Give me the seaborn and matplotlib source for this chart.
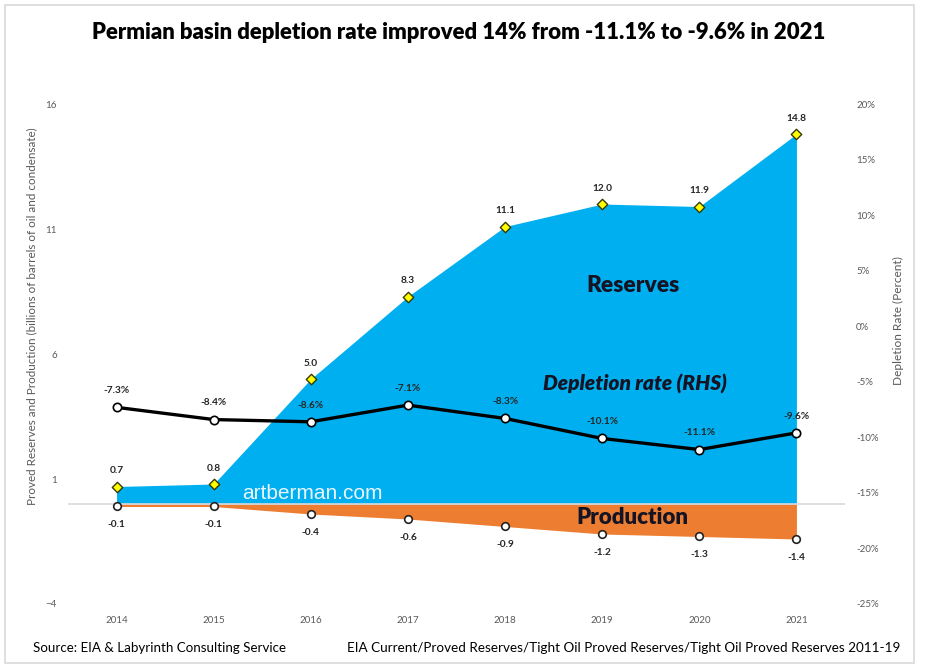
import matplotlib
matplotlib.use("Agg")
import matplotlib.pyplot as plt
from matplotlib.patches import Rectangle
from matplotlib.ticker import FuncFormatter
import pandas as pd
import seaborn as sns

# ---------------------------------------------------------------------------
# Data
# ---------------------------------------------------------------------------
years = [2014, 2015, 2016, 2017, 2018, 2019, 2020, 2021]
reserves = [0.7, 0.8, 5.0, 8.3, 11.1, 12.0, 11.9, 14.8]           # billion bbl
production = [-0.1, -0.1, -0.4, -0.6, -0.9, -1.2, -1.3, -1.4]     # billion bbl
depletion = [-7.3, -8.4, -8.6, -7.1, -8.3, -10.1, -11.1, -9.6]    # percent

left_ticks = [-4, 1, 6, 11, 16]
right_ticks = [-25, -20, -15, -10, -5, 0, 5, 10, 15, 20]

title = "Permian basin depletion rate improved 14% from -11.1% to -9.6% in 2021"
source_left = "Source: EIA & Labyrinth Consulting Service"
source_right = ("EIA Current/Proved Reserves/Tight Oil Proved Reserves/"
                "Tight Oil Proved Reserves 2011-19")

df = pd.DataFrame({"year": years, "reserves": reserves,
                   "production": production, "depletion": depletion})

sns.set_theme(style="white")
plt.rcParams["font.family"] = ["Lato", "DejaVu Sans"]

BLUE = "#00AFEF"
ORANGE = "#ED7D31"
GREY = "#595959"
DARK = "#262626"
NAVY = "#141424"

fig = plt.figure(figsize=(9.3, 6.72), dpi=100)
fig.patches.append(Rectangle((0.005, 0.013), 0.978, 0.98, transform=fig.transFigure,
                             fill=False, edgecolor="#d9d9d9", lw=1.2))

ax = fig.add_axes([0.0731, 0.1012, 0.8355, 0.744])
ax.fill_between(df["year"], 0, df["reserves"], color=BLUE, lw=0, zorder=1)
ax.fill_between(df["year"], 0, df["production"], color=ORANGE, lw=0, zorder=1)
ax.axhline(0, color="#d9d9d9", lw=1.2, zorder=2)

sns.scatterplot(data=df, x="year", y="reserves", marker="D", s=28, color="#FFFF00",
                edgecolor="#3a3a00", linewidth=1, ax=ax, zorder=3)
sns.scatterplot(data=df, x="year", y="production", marker="o", s=30, color="white",
                edgecolor="#222222", linewidth=1.2, ax=ax, zorder=3)

for x, v in zip(years, reserves):
    ax.annotate(f"{v:.1f}", (x, v), xytext=(0, 11.5), textcoords="offset points",
                ha="center", va="center", fontsize=7.3, fontweight="bold", color=DARK)
for x, v in zip(years, production):
    ax.annotate(f"{v:.1f}", (x, v), xytext=(0, -13), textcoords="offset points",
                ha="center", va="center", fontsize=7.3, fontweight="bold", color=DARK)

ax.set_xlim(2013.5, 2021.5)
ax.set_ylim(-4, 16)
ax.set_xticks(years)
ax.set_xticklabels([str(y) for y in years])
ax.set_yticks(left_ticks)
ax.tick_params(axis="both", length=0, labelsize=7, labelcolor=GREY)
ax.tick_params(axis="y", pad=8)
ax.tick_params(axis="x", pad=9)
ax.set_xlabel("")
ax.set_ylabel("Proved Reserves and Production (billions of barrels of oil and condensate)",
              fontsize=8.4, color=GREY)
ax.yaxis.set_label_coords(-0.040, 0.576)

ax.text(0.727, 0.638, "Reserves", transform=ax.transAxes, ha="center", va="center",
        fontsize=16.4, fontweight="heavy", color=NAVY, zorder=4)
ax.text(0.730, 0.44, "Depletion rate (RHS)", transform=ax.transAxes, ha="center",
        va="center", fontsize=15, fontweight="heavy", fontstyle="italic",
        color=NAVY, zorder=4)
ax.text(0.726, 0.172, "Production", transform=ax.transAxes, ha="center", va="center",
        fontsize=16, fontweight="heavy", color=NAVY, zorder=4)
ax.text(0.314, 0.222, "artberman.com", transform=ax.transAxes, ha="center",
        va="center", fontsize=15, color="#eaf6fd", family=["Liberation Sans", "DejaVu Sans"],
        zorder=4)

# depletion rate on the right-hand axis
ax2 = ax.twinx()
sns.lineplot(data=df, x="year", y="depletion", color="black", lw=2.4, marker="o",
             markersize=6, markerfacecolor="white", markeredgecolor="black",
             markeredgewidth=1.2, ax=ax2, zorder=5)
for x, v in zip(years, depletion):
    ax2.annotate(f"{v:.1f}%", (x, v), xytext=(0, 12), textcoords="offset points",
                 ha="center", va="center", fontsize=7.3, fontweight="bold", color=DARK)
ax2.set_ylim(-25, 20)
ax2.set_yticks(right_ticks)
ax2.yaxis.set_major_formatter(FuncFormatter(lambda v, _: f"{v:.0f}%"))
ax2.tick_params(axis="y", length=0, labelsize=7, labelcolor=GREY, pad=8)
ax2.set_ylabel("Depletion Rate (Percent)", fontsize=8.6, color=GREY, rotation=90)
ax2.yaxis.set_label_coords(1.062, 0.566)

for a in (ax, ax2):
    for s in a.spines.values():
        s.set_visible(False)
    a.grid(False)

fig.text(0.493, 0.952, title, ha="center", va="center", fontsize=15.9, fontweight="heavy",
         color="black")
fig.text(0.036, 0.036, source_left, ha="left", va="center", fontsize=9.6, color="black")
fig.text(0.968, 0.036, source_right, ha="right", va="center", fontsize=9.7, color="black")

fig.savefig("out.png", dpi=100)
